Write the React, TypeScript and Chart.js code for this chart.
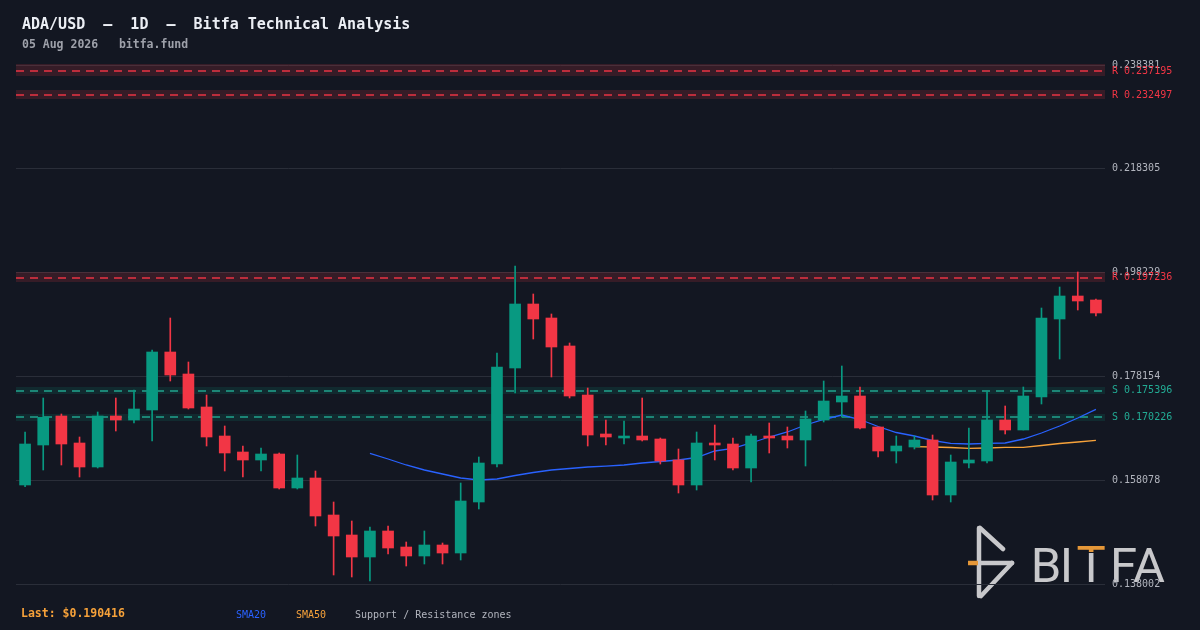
import React, { useEffect, useRef } from "react";
import { Chart, registerables } from "chart.js";

Chart.register(...registerables);

// ---------- DATA ----------
const dates = [
  "06-07", "06-08", "06-09", "06-10", "06-11", "06-12", "06-13", "06-14", "06-15", "06-16",
  "06-17", "06-18", "06-19", "06-20", "06-21", "06-22", "06-23", "06-24", "06-25", "06-26",
  "06-27", "06-28", "06-29", "06-30", "07-01", "07-02", "07-03", "07-04", "07-05", "07-06",
  "07-07", "07-08", "07-09", "07-10", "07-11", "07-12", "07-13", "07-14", "07-15", "07-16",
  "07-17", "07-18", "07-19", "07-20", "07-21", "07-22", "07-23", "07-24", "07-25", "07-26",
  "07-27", "07-28", "07-29", "07-30", "07-31", "08-01", "08-02", "08-03", "08-04", "08-05",
];

const opens = [
  0.15715, 0.164886, 0.170495, 0.165273, 0.160631, 0.170495, 0.169721, 0.171655, 0.182873, 0.178618,
  0.172236, 0.166627, 0.163532, 0.161985, 0.163145, 0.156569, 0.158503, 0.151347, 0.147479, 0.143224,
  0.148253, 0.145158, 0.143417, 0.145545, 0.143998, 0.153862, 0.161211, 0.179779, 0.192157, 0.189449,
  0.184034, 0.174556, 0.167014, 0.16624, 0.166627, 0.166046, 0.161985, 0.15715, 0.165273, 0.165079,
  0.160438, 0.166627, 0.166627, 0.165853, 0.169721, 0.173203, 0.174363, 0.168367, 0.163726, 0.164499,
  0.165853, 0.155215, 0.161405, 0.161791, 0.169721, 0.167787, 0.17417, 0.189256, 0.193704, 0.19293,
];
const highs = [
  0.1674, 0.173976, 0.170882, 0.166433, 0.171269, 0.173976, 0.175524, 0.18326, 0.189449, 0.180939,
  0.174556, 0.168561, 0.164693, 0.164306, 0.163339, 0.162952, 0.159857, 0.153862, 0.150187, 0.149026,
  0.14922, 0.146125, 0.148253, 0.145932, 0.157536, 0.162565, 0.18268, 0.199506, 0.194091, 0.190223,
  0.184614, 0.17591, 0.169721, 0.169528, 0.173976, 0.16624, 0.164112, 0.1674, 0.168754, 0.16624,
  0.167014, 0.169141, 0.168367, 0.171462, 0.177264, 0.180165, 0.176104, 0.168367, 0.166627, 0.166627,
  0.16682, 0.162952, 0.168174, 0.17533, 0.172429, 0.176104, 0.191383, 0.195445, 0.198346, 0.193123,
];
const lows = [
  0.156821, 0.160051, 0.161018, 0.158697, 0.160438, 0.167594, 0.169141, 0.16566, 0.177264, 0.171849,
  0.164693, 0.159857, 0.158697, 0.159857, 0.156376, 0.156376, 0.14922, 0.139743, 0.139356, 0.138582,
  0.143804, 0.141483, 0.14187, 0.14187, 0.142644, 0.152508, 0.160631, 0.174943, 0.185387, 0.178038,
  0.173976, 0.164693, 0.164886, 0.165079, 0.16566, 0.161211, 0.155602, 0.156183, 0.161985, 0.160051,
  0.15773, 0.163339, 0.164306, 0.160824, 0.169334, 0.170301, 0.167981, 0.162565, 0.161405, 0.164112,
  0.154248, 0.153862, 0.160438, 0.161405, 0.167014, 0.167787, 0.172816, 0.181519, 0.190996, 0.189836,
];
const closes = [
  0.165079, 0.170243, 0.165079, 0.160631, 0.170495, 0.169721, 0.171849, 0.182873, 0.178425, 0.172042,
  0.166433, 0.163339, 0.161985, 0.163145, 0.156569, 0.158503, 0.151154, 0.147286, 0.143224, 0.148253,
  0.144965, 0.143417, 0.145545, 0.143998, 0.154055, 0.161405, 0.179972, 0.192157, 0.189256, 0.18384,
  0.174363, 0.16682, 0.166433, 0.166627, 0.165853, 0.161791, 0.15715, 0.165273, 0.164886, 0.160438,
  0.166627, 0.16624, 0.165853, 0.169915, 0.173396, 0.174363, 0.168174, 0.163726, 0.164693, 0.165853,
  0.155215, 0.161598, 0.161985, 0.169721, 0.167787, 0.174363, 0.189449, 0.193704, 0.192737, 0.190416,
];

const sma20 = [
  null, null, null, null, null, null, null, null, null, null,
  null, null, null, null, null, null, null, null, null, 0.163281,
  0.162178, 0.161018, 0.160051, 0.159277, 0.158503, 0.158117, 0.15831, 0.158987, 0.159567, 0.160051,
  0.160341, 0.160631, 0.160786, 0.161018, 0.161405, 0.161695, 0.161985, 0.162468, 0.163726, 0.164248,
  0.165273, 0.166433, 0.1674, 0.168754, 0.169818, 0.170688, 0.169818, 0.168464, 0.167304, 0.166627,
  0.165756, 0.165215, 0.165079, 0.165215, 0.165273, 0.166046, 0.167207, 0.168561, 0.170108, 0.171791,
];
const sma50 = [
  null, null, null, null, null, null, null, null, null, null,
  null, null, null, null, null, null, null, null, null, null,
  null, null, null, null, null, null, null, null, null, null,
  null, null, null, null, null, null, null, null, null, null,
  null, null, null, null, null, null, null, null, null, 0.164557,
  0.164499, 0.164402, 0.164248, 0.164306, 0.164441, 0.164441, 0.164789, 0.165176, 0.165466, 0.165795,
];

const yTicks = [0.138002, 0.158078, 0.178154, 0.198229, 0.218305, 0.238381];

const zoneKinds = ["R", "R", "R", "S", "S"];
const zoneLevels = [0.237195, 0.232497, 0.197236, 0.175396, 0.170226];
const zoneLows = [0.236254, 0.231806, 0.196412, 0.17475, 0.169528];
const zoneHighs = [0.238575, 0.233547, 0.198346, 0.176104, 0.170882];

const lastPrice = 0.190416;

// ---------- STYLE ----------
const BG = "#131722";
const UP = "#089981";
const DOWN = "#f23645";
const SUP = "#22ab94";
const MONO = "'DejaVu Sans Mono', 'Liberation Mono', monospace";
const ORANGE = "#f7a23a";
const BLUE = "#2962ff";

const zonesPlugin = {
  id: "zones",
  beforeDatasetsDraw(chart: any) {
    const { ctx, chartArea } = chart;
    const y = chart.scales.y;
    ctx.save();
    zoneLevels.forEach((lvl, i) => {
      const isR = zoneKinds[i] === "R";
      const top = y.getPixelForValue(zoneHighs[i]);
      const bot = y.getPixelForValue(zoneLows[i]);
      ctx.fillStyle = isR ? "rgba(242,54,69,0.16)" : "rgba(8,153,129,0.15)";
      ctx.fillRect(chartArea.left, top, chartArea.right - chartArea.left, bot - top);
      const py = Math.round(y.getPixelForValue(lvl));
      ctx.strokeStyle = isR ? "rgba(242,54,69,0.95)" : "rgba(34,171,148,0.95)";
      ctx.lineWidth = 1.5;
      ctx.setLineDash([8, 6]);
      ctx.beginPath();
      ctx.moveTo(chartArea.left, py);
      ctx.lineTo(chartArea.right, py);
      ctx.stroke();
    });
    ctx.restore();
  },
  afterDraw(chart: any) {
    const { ctx, chartArea } = chart;
    const y = chart.scales.y;
    ctx.save();
    ctx.font = `10px ${MONO}`;
    ctx.textBaseline = "middle";
    ctx.textAlign = "left";
    zoneLevels.forEach((lvl, i) => {
      const isR = zoneKinds[i] === "R";
      ctx.fillStyle = isR ? DOWN : SUP;
      ctx.fillText(`${zoneKinds[i]} ${lvl.toFixed(6)}`, chartArea.right + 7, y.getPixelForValue(lvl));
    });
    ctx.restore();
  },
};

function CandleChart() {
  const ref = useRef<HTMLCanvasElement | null>(null);

  useEffect(() => {
    document.body.style.margin = "0";
    document.body.style.background = BG;
    const canvas = ref.current;
    if (!canvas) return;
    const colors = closes.map((c, i) => (c >= opens[i] ? UP : DOWN));
    const chart = new Chart(canvas, {
      type: "bar",
      data: {
        labels: dates,
        datasets: [
          {
            type: "line",
            label: "SMA20",
            data: sma20 as any,
            borderColor: BLUE,
            borderWidth: 1.3,
            pointRadius: 0,
            tension: 0,
            spanGaps: false,
            order: 5,
          } as any,
          {
            type: "line",
            label: "SMA50",
            data: sma50 as any,
            borderColor: ORANGE,
            borderWidth: 1.3,
            pointRadius: 0,
            tension: 0,
            spanGaps: false,
            order: 4,
          } as any,
          {
            type: "bar",
            label: "wick",
            data: lows.map((l, i) => [l, highs[i]]) as any,
            backgroundColor: colors,
            borderWidth: 0,
            barThickness: 1,
            grouped: false,
            order: 2,
          } as any,
          {
            type: "bar",
            label: "body",
            data: opens.map((o, i) => [o, closes[i]]) as any,
            backgroundColor: colors,
            borderWidth: 0,
            barThickness: 11,
            minBarLength: 1,
            grouped: false,
            order: 1,
          } as any,
        ],
      },
      options: {
        animation: false,
        responsive: false,
        maintainAspectRatio: false,
        devicePixelRatio: 1,
        events: [],
        layout: { padding: { left: 16, top: 65, bottom: 46, right: 0 } },
        plugins: {
          legend: { display: false },
          tooltip: { enabled: false },
          title: { display: false },
        },
        scales: {
          x: {
            type: "category",
            display: false,
            offset: true,
            grid: { display: false },
          },
          y: {
            position: "right",
            min: yTicks[0],
            max: yTicks[yTicks.length - 1],
            afterBuildTicks: (scale: any) => {
              scale.ticks = yTicks.map((v) => ({ value: v }));
            },
            afterFit: (scale: any) => {
              scale.width = 95;
            },
            grid: { color: "#2a2e39", lineWidth: 1, drawTicks: false },
            border: { display: false },
            ticks: {
              color: "#b2b5be",
              padding: 7,
              font: { family: MONO, size: 10 },
              callback: (v: any) => Number(v).toFixed(6),
            },
          },
        },
      } as any,
      plugins: [zonesPlugin],
    });
    return () => chart.destroy();
  }, []);

  return (
    <canvas
      ref={ref}
      width={1200}
      height={630}
      style={{ position: "absolute", left: 0, top: 0, width: 1200, height: 630 }}
    />
  );
}

function Logo() {
  const gray = "#d8d8da";
  const font = "Roboto, 'Noto Sans', sans-serif";
  return (
    <svg
      width={1200}
      height={630}
      style={{ position: "absolute", left: 0, top: 0, opacity: 0.92 }}
    >
      <defs>
        <clipPath id="tTop">
          <rect x={1070} y={530} width={45} height={22} />
        </clipPath>
        <clipPath id="tStem">
          <rect x={1070} y={553} width={45} height={40} />
        </clipPath>
      </defs>
      <g stroke={gray} strokeWidth={4.5} strokeLinecap="round" fill="none">
        <line x1={979} y1={528} x2={979} y2={596} />
        <line x1={980} y1={528} x2={1003} y2={549} />
        <line x1={979} y1={563} x2={1012} y2={563} />
        <line x1={1012} y1={563} x2={981} y2={596} />
      </g>
      <line x1={968} y1={563} x2={978} y2={563} stroke={ORANGE} strokeWidth={4.5} />
      <g fill={gray} fontFamily={font} fontSize={49}>
        <text x={1046} y={582} textAnchor="middle">B</text>
        <text x={1066.5} y={582} textAnchor="middle">I</text>
        <text x={1091} y={582} textAnchor="middle" clipPath="url(#tStem)">T</text>
        <text x={1110} y={582} textAnchor="start">F</text>
        <text x={1149} y={582} textAnchor="middle">A</text>
      </g>
      <text
        x={1091}
        y={580}
        textAnchor="middle"
        fill={ORANGE}
        fontFamily={font}
        fontSize={49}
        clipPath="url(#tTop)"
      >
        T
      </text>
    </svg>
  );
}

export default function App() {
  const text = (s: React.CSSProperties): React.CSSProperties => ({
    position: "absolute",
    fontFamily: MONO,
    lineHeight: 1,
    whiteSpace: "pre",
    margin: 0,
    ...s,
  });
  return (
    <div
      style={{
        position: "absolute",
        left: 0,
        top: 0,
        width: 1200,
        height: 630,
        background: BG,
        overflow: "hidden",
      }}
    >
      <Logo />
      <CandleChart />
      <div style={text({ left: 22, top: 17, fontSize: 15, fontWeight: 700, color: "#eceff5" })}>
        {"ADA/USD  —  1D  —  Bitfa Technical Analysis"}
      </div>
      <div style={text({ left: 22, top: 39, fontSize: 11.5, fontWeight: 700, color: "#9ea1aa" })}>
        {"05 Aug 2026   bitfa.fund"}
      </div>
      <div style={text({ left: 21, top: 608, fontSize: 11.5, fontWeight: 700, color: ORANGE })}>
        {`Last: $${lastPrice.toFixed(6)}`}
      </div>
      <div style={text({ left: 236, top: 610, fontSize: 10, color: BLUE })}>SMA20</div>
      <div style={text({ left: 296, top: 610, fontSize: 10, color: ORANGE })}>SMA50</div>
      <div style={text({ left: 355, top: 610, fontSize: 10, color: "#b2b5be" })}>
        Support / Resistance zones
      </div>
    </div>
  );
}
